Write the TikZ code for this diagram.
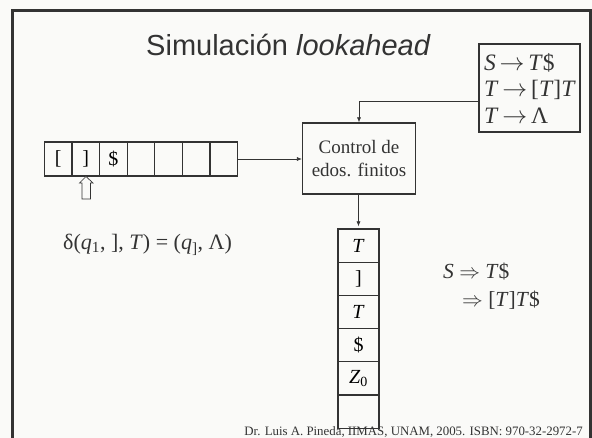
\documentclass[tikz,border=0pt]{standalone}
\usepackage{fontspec}
\setmainfont{Liberation Serif}
\setsansfont{Liberation Sans}
\usetikzlibrary{arrows.meta}
\definecolor{bg}{HTML}{FAFAF8}
\definecolor{ink}{HTML}{333333}
\tikzset{
  cell/.style={draw=ink, line width=1.2pt, minimum width=27.6pt, minimum height=34pt, inner sep=0pt, font=\fontsize{20}{24}\selectfont},
  stackcell/.style={draw=ink, line width=1.2pt, minimum width=41pt, minimum height=33.2pt, inner sep=0pt, font=\fontsize{20}{24}\selectfont},
  box/.style={draw=ink, line width=1.2pt, inner sep=0pt},
  arr/.style={draw=ink, line width=0.7pt, -{Latex[length=5pt,width=4pt]}},
  txt/.style={text=ink, inner sep=0pt, font=\fontsize{21.5}{26}\selectfont}
}
\begin{document}
\begin{tikzpicture}[x=1pt,y=-1pt]
\fill[bg] (0,0) rectangle (592,438);
\useasboundingbox (0,0) rectangle (592,438);
% frame
\draw[ink, line width=3pt] (12,460) -- (12,11) -- (590,11) -- (590,460);
% title
\node[text=ink, inner sep=0pt, font=\sffamily\fontsize{29}{33}\selectfont] (title) at (288.5,45) {Simulación \textit{lookahead}};
% grammar box
\node[box, minimum width=101pt, minimum height=88pt, align=left, text=ink, font=\fontsize{23.5}{26.5}\selectfont, text width=91pt] (gram) at (529.5,88) {\textit{S}\,$\rightarrow$\,\textit{T}\$\\ \textit{T}\,$\rightarrow$\,[\textit{T}]\textit{T}\\ \textit{T}\,$\rightarrow$\,Λ};
% control box
\node[box, minimum width=113pt, minimum height=71pt, align=center, text=ink, font=\fontsize{19}{23}\selectfont] (ctrl) at (359,158.5) {Control de\\edos. finitos};
% tape
\node[cell] (t1) at (58.1,159) {[};
\node[cell] (t2) at (85.7,159) {]};
\node[cell] (t3) at (113.3,159) {\$};
\node[cell] (t4) at (140.9,159) {};
\node[cell] (t5) at (168.5,159) {};
\node[cell] (t6) at (196.1,159) {};
\node[cell] (t7) at (223.7,159) {};
% head pointer
\draw[ink, line width=0.7pt, fill=bg] (86,176.5) -- (93,183) -- (90.5,183) -- (90.5,199) -- (82,199) -- (82,183) -- (79.5,183) -- cycle;
% stack
\node[stackcell] (s1) at (358.5,245.6) {\textit{T}};
\node[stackcell] (s2) at (358.5,278.8) {]};
\node[stackcell] (s3) at (358.5,312) {\textit{T}};
\node[stackcell] (s4) at (358.5,345.2) {\$};
\node[stackcell] (s5) at (358.5,378.4) {\textit{Z}\textsubscript{0}};
\node[stackcell] (s6) at (358.5,411.6) {};
% connectors
\draw[arr] (gram.west |- 0,101) -| (ctrl.north);
\draw[arr] (t7.east) -- (ctrl.west |- t7.east);
\draw[arr, shorten >=2pt] (ctrl.south -| s1.north) -- (s1.north);
% formulas
\node[txt, anchor=west, font=\fontsize{22}{26}\selectfont] (delta) at (63,245) {δ(\textit{q}\textsubscript{1}, ], \textit{T}) = (\textit{q}\textsubscript{]}, Λ)};
\node[txt, anchor=west] (d1) at (443,272) {\textit{S} $\Rightarrow$ \textit{T}\$};
\node[txt, anchor=west] (d2) at (462,300) {$\Rightarrow$ [\textit{T}]\textit{T}\$};
% footer
\node[text=ink, inner sep=0pt, anchor=east, font=\fontsize{12.85}{14}\selectfont] (foot) at (583,432) {Dr. Luis A. Pineda, IIMAS, UNAM, 2005. ISBN: 970-32-2972-7};
\end{tikzpicture}
\end{document}
